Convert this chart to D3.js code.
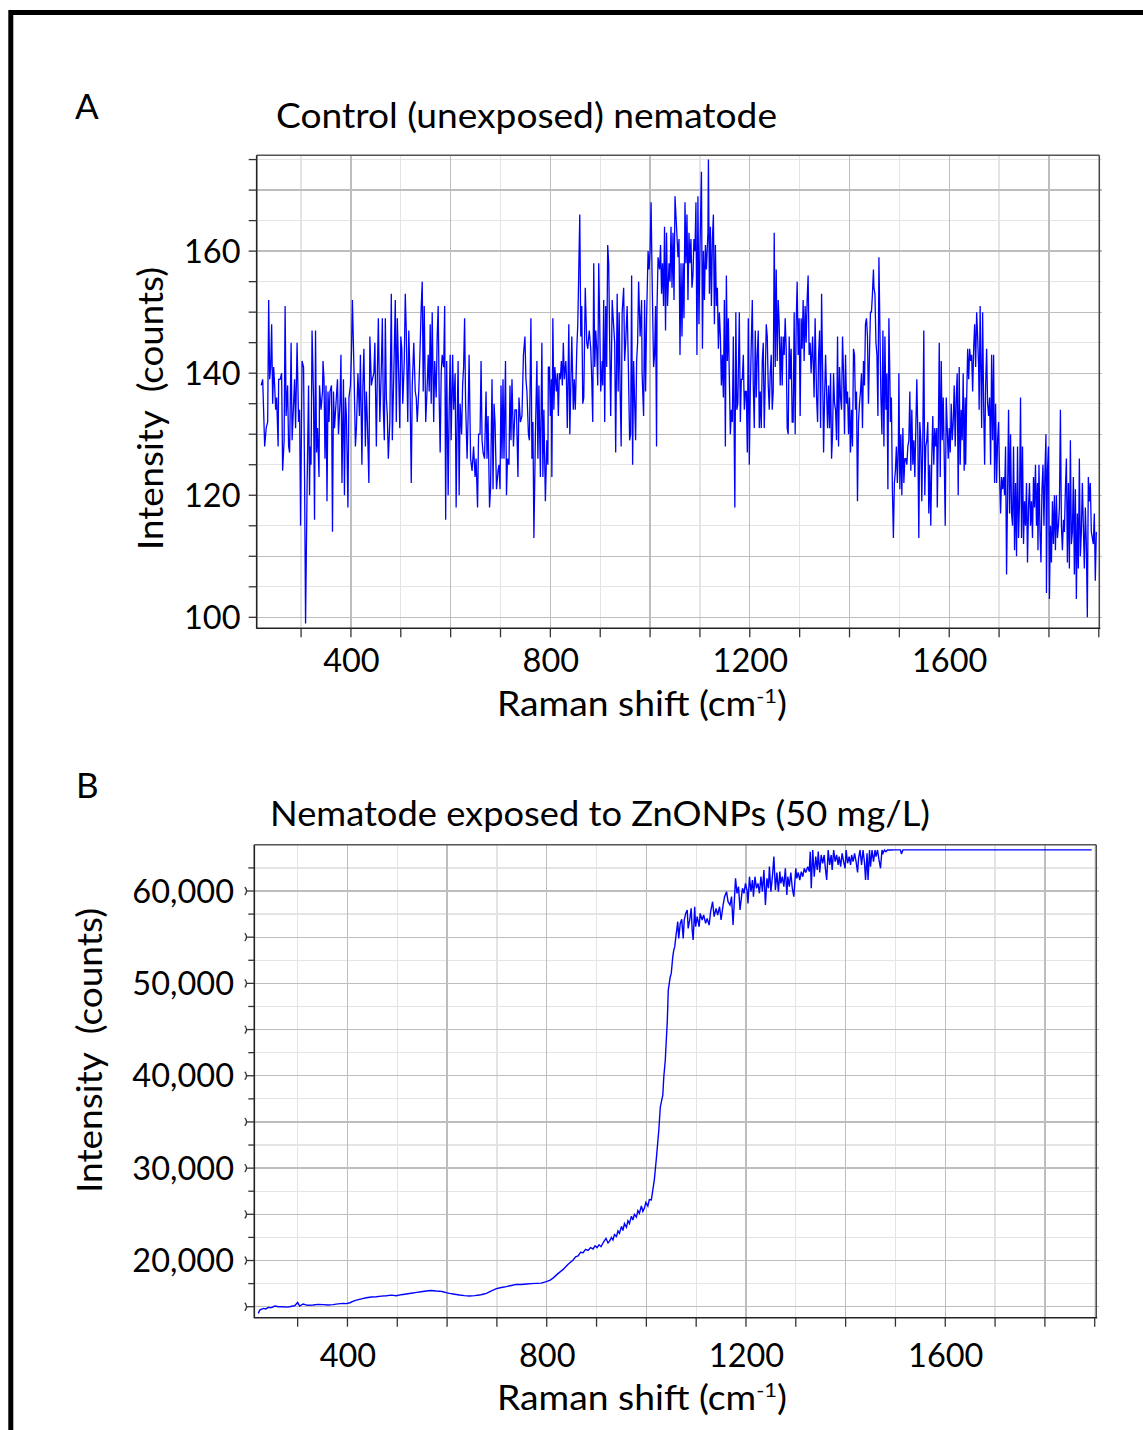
<!DOCTYPE html>
<html><head><meta charset="utf-8">
<script src="https://cdn.jsdelivr.net/npm/d3@7"></script>
<style>
body{margin:0;background:#fff}
svg{display:block}
text{font-family:Lato,"Open Sans",sans-serif;fill:#000}
</style>
</head><body>
<svg id="c" width="1143" height="1430"></svg>
<script>
// ---------- DATA ----------
// Panel A: control nematode spectrum [Raman shift cm-1, counts]
const spectrumA = [
[220,138],[223,139],[227,128],[230,131],[233,132],[235,152],[237,139],[239,141],[241,148],[243,135],[245,141],[247,138],[249,134],[251,136],[254,128],[255,139],[258,139],[261,140],[263,124],[266,129],[268,151],[270,133],[273,138],[275,128],[277,127],[280,145],[282,129],[285,135],[287,139],[289,131],[292,145],[295,132],[297,134],[299,115],[302,142],[305,141],[307,123],[309,99],[312,121],[315,138],[317,120],[318,128],[320,125],[322,147],[325,136],[327,116],[329,147],[331,127],[333,131],[336,123],[337,138],[340,134],[343,137],[344,142],[346,139],[348,126],[350,138],[352,119],[354,137],[356,132],[358,137],[361,138],[363,114],[365,137],[367,131],[370,135],[373,139],[375,130],[378,135],[380,143],[382,122],[385,139],[387,120],[389,136],[391,133],[394,118],[396,136],[399,138],[401,143],[403,152],[406,141],[409,128],[411,131],[414,140],[417,133],[419,143],[422,125],[424,138],[426,144],[429,128],[431,137],[433,132],[436,122],[438,146],[441,138],[443,139],[446,140],[448,145],[451,128],[453,140],[455,149],[458,132],[461,141],[463,149],[465,134],[467,129],[469,149],[471,136],[473,133],[475,126],[478,132],[481,153],[483,129],[486,140],[489,152],[491,132],[493,149],[496,139],[498,131],[500,146],[502,144],[504,135],[507,142],[509,153],[511,147],[514,132],[516,147],[518,141],[521,122],[523,138],[526,145],[529,137],[531,136],[533,132],[536,137],[538,142],[541,151],[543,155],[545,137],[547,151],[550,132],[553,138],[555,143],[557,137],[559,148],[561,135],[563,150],[566,132],[568,142],[571,136],[573,146],[575,151],[577,136],[579,127],[581,140],[583,143],[586,141],[588,151],[590,116],[592,142],[595,120],[597,134],[599,143],[601,129],[604,143],[606,134],[609,140],[611,118],[613,132],[615,142],[617,120],[619,135],[622,130],[624,138],[626,141],[628,149],[630,135],[633,126],[635,133],[637,143],[640,126],
[643,124],[646,128],[649,123],[651,126],[654,118],[656,130],[659,130],[661,142],[663,129],[665,127],[668,126],[671,137],[673,126],[675,133],[678,118],[680,121],[683,139],[685,121],[687,135],[689,132],[692,121],[695,124],[697,125],[699,121],[701,138],[703,126],[705,139],[707,126],[710,142],[712,120],[714,126],[717,125],[719,138],[721,129],[723,139],[726,128],[729,134],[732,134],[735,123],[737,136],[740,132],[743,133],[746,143],[749,146],[751,139],[753,137],[756,130],[758,129],[761,149],[763,126],[765,132],[767,113],[770,130],[773,142],[775,126],[777,138],[780,123],[783,145],[785,123],[787,134],[790,119],[793,129],[795,125],[796,141],[798,141],[800,133],[802,139],[803,123],[805,149],[807,134],[809,141],[812,137],[814,140],[816,133],[818,140],[820,139],[822,142],[824,138],[826,145],[828,139],[831,142],[832,140],[834,131],[837,148],[839,130],[841,138],[843,146],[846,134],[848,139],[850,134],[853,144],[855,148],[859,166],[861,146],[863,151],[865,135],[867,136],[870,154],[873,145],[875,144],[878,147],[881,144],[883,139],[885,132],[887,158],[889,141],[891,147],[893,144],[895,138],[897,158],[899,148],[901,137],[904,142],[905,138],[907,152],[909,132],[911,151],[913,141],[915,161],[917,158],[919,145],[921,133],[924,152],[926,149],[929,145],[931,127],[934,153],[936,137],[938,150],[940,137],[942,128],[944,150],[947,154],[949,142],[951,145],[954,151],[956,143],[959,129],[961,130],[963,156],[965,125],[967,142],[971,129],[973,142],[975,145],[977,155],[980,146],[983,152],[984,140],[987,133],[989,152],[991,137],[993,149],[996,160],[998,157],[1000,160],[1002,168],[1004,156],[1007,141],[1009,143],[1011,151],[1013,128],[1014,151],[1016,159],[1019,157],[1021,161],[1023,153],[1025,158],[1027,151],[1029,164],[1031,147],[1033,163],[1035,151],[1038,158],[1040,155],[1042,164],[1044,154],[1046,163],[1048,152],[1050,169],
[1056,159],[1058,162],[1060,143],[1062,158],[1064,146],[1066,158],[1068,149],[1070,168],[1072,158],[1074,166],[1076,152],[1078,163],[1080,158],[1082,162],[1084,154],[1086,156],[1088,162],[1090,160],[1092,168],[1094,143],[1096,169],[1098,148],[1100,160],[1103,173],[1105,144],[1107,160],[1109,152],[1111,161],[1113,157],[1114,159],[1116,163],[1117,175],[1119,153],[1121,164],[1123,151],[1125,162],[1127,166],[1129,148],[1131,161],[1133,151],[1135,154],[1137,144],[1139,150],[1141,146],[1143,138],[1145,143],[1147,136],[1149,152],[1151,128],[1153,156],[1155,142],[1157,149],[1159,139],[1161,130],[1163,134],[1165,132],[1167,146],[1170,118],[1172,150],[1174,134],[1176,135],[1179,150],[1181,132],[1183,139],[1185,139],[1187,143],[1189,134],[1191,137],[1193,137],[1195,127],[1197,149],[1199,125],[1201,137],[1203,145],[1205,152],[1207,138],[1209,131],[1211,147],[1213,136],[1215,143],[1217,147],[1219,131],[1221,137],[1223,131],[1225,142],[1227,145],[1229,131],[1231,139],[1233,148],[1235,146],[1237,138],[1239,134],[1241,140],[1243,143],[1245,134],[1247,137],[1249,163],[1251,141],[1253,157],[1255,142],[1257,152],[1259,148],[1261,138],[1263,146],[1265,138],[1267,146],[1269,143],[1271,149],[1273,144],[1275,131],[1277,130],[1279,146],[1281,139],[1283,144],[1285,132],[1287,132],[1289,150],[1291,130],[1293,148],[1295,155],[1297,143],[1299,149],[1301,133],[1303,149],[1305,144],[1307,152],[1309,142],[1311,151],[1313,145],[1315,152],[1317,156],[1319,143],[1321,145],[1323,140],[1326,146],[1329,136],[1331,149],[1334,136],[1336,132],[1338,143],[1340,147],[1342,131],[1344,153],[1346,141],[1348,127],[1350,136],[1352,143],[1354,137],[1356,131],[1358,138],[1360,131],[1362,140],[1364,126],[1366,130],[1368,140],[1370,135],[1372,134],[1374,129],[1376,146],[1378,128],[1380,141],[1382,136],[1384,134],[1386,146],[1388,140],[1390,130],[1392,143],[1394,135],[1396,137],[1398,130],[1400,136],[1402,127],[1404,134],[1406,128],[1408,144],[1410,143],[1412,134],[1414,137],[1416,119],[1418,132],[1420,135],[1422,137],[1424,140],[1426,131],[1428,142],[1430,138],[1432,148],[1434,149],[1436,146],[1438,135],[1440,143],[1442,150],[1444,150],[1446,153],[1448,157],[1449,154],[1451,153],[1453,145],[1455,143],[1457,133],[1459,159],[1461,147],[1463,136],[1465,130],[1467,147],[1469,128],[1471,146],[1473,134],[1475,140],[1477,121],[1479,149],[1481,139],
[1482,132],[1484,136],[1486,121],[1488,113],[1490,122],[1492,124],[1494,128],[1496,122],[1498,128],[1499,140],[1501,121],[1503,130],[1505,120],[1507,131],[1509,122],[1511,126],[1513,126],[1515,125],[1517,128],[1519,129],[1521,137],[1523,124],[1525,134],[1527,125],[1529,129],[1531,123],[1533,131],[1535,139],[1537,130],[1539,113],[1541,132],[1543,129],[1545,119],[1547,129],[1549,147],[1551,120],[1553,128],[1555,129],[1557,132],[1559,117],[1561,125],[1563,115],[1565,126],[1567,133],[1569,125],[1571,131],[1573,128],[1575,131],[1576,118],[1578,129],[1580,145],[1582,123],[1584,142],[1586,129],[1588,136],[1590,126],[1592,115],[1594,136],[1596,131],[1598,126],[1600,131],[1602,127],[1604,135],[1606,129],[1608,132],[1610,138],[1612,128],[1614,136],[1616,140],[1618,120],[1620,141],[1622,125],[1624,134],[1626,129],[1628,140],[1630,124],[1632,136],[1633,125],[1635,136],[1637,144],[1639,139],[1641,144],[1643,142],[1645,143],[1647,137],[1649,144],[1651,148],[1653,141],[1655,150],[1657,146],[1659,141],[1660,134],[1662,151],[1663,144],[1665,131],[1667,150],[1669,135],[1671,125],[1673,138],[1675,144],[1677,135],[1679,133],[1681,136],[1683,125],[1685,143],[1687,129],[1689,143],[1691,122],[1693,135],[1695,122],[1697,129],[1699,132],[1701,123],[1703,117],[1705,123],[1707,121],[1709,123],[1711,120],[1713,128],[1715,107],[1717,120],[1719,134],[1721,117],[1723,130],[1725,117],[1727,115],[1729,128],[1731,111],[1733,122],[1735,110],[1737,128],[1739,113],[1741,119],[1743,136],[1745,113],[1747,128],[1749,112],[1751,119],[1753,115],[1755,122],[1757,109],[1759,118],[1761,122],[1763,115],[1765,119],[1767,113],[1769,123],[1771,118],[1773,125],[1775,115],[1777,122],[1778,111],[1780,125],[1782,114],[1784,109],[1786,121],[1788,125],[1790,115],[1792,124],[1794,130],[1795,104],[1797,124],[1799,128],[1801,103],[1803,115],[1805,109],[1807,119],[1809,112],[1811,120],[1813,111],[1815,120],[1817,113],[1819,115],[1821,118],[1823,134],[1825,115],[1827,111],[1829,116],[1831,114],[1833,121],[1835,126],[1837,109],[1839,122],[1841,108],[1843,129],[1845,112],[1847,114],[1849,123],[1851,107],[1853,121],[1855,103],[1857,117],[1859,108],[1861,126],[1863,110],[1865,114],[1867,122],[1869,115],[1871,108],[1873,118],[1875,112],[1877,100],[1879,123],[1881,119],[1883,122],[1885,114],[1887,113],[1889,112],[1891,117],[1893,106],[1895,114]
];

// Panel B: nematode exposed to ZnONPs (50 mg/L) [Raman shift cm-1, counts]
const spectrumB = [
[221,14280],[224,14640],[231,14820],[236,14760],[241,14930],[248,14900],[254,15070],[262,15000],[271,15000],[278,14950],[284,15000],[290,15080],[294,15100],[300,15450],[304,15070],[311,15290],[320,15150],[331,15180],[341,15250],[351,15220],[361,15180],[371,15220],[381,15300],[391,15360],[398,15330],[405,15430],[412,15600],[418,15720],[428,15850],[438,15970],[448,16050],[458,16080],[468,16150],[478,16190],[488,16250],[498,16190],[508,16300],[518,16370],[528,16450],[539,16550],[548,16620],[558,16700],[568,16750],[578,16700],[585,16680],[592,16620],[598,16520],[605,16440],[615,16350],[625,16260],[635,16200],[645,16160],[655,16200],[665,16260],[672,16350],[679,16440],[689,16700],[699,16950],[709,17080],[719,17170],[729,17300],[739,17420],[749,17400],[759,17450],[769,17500],[779,17530],[789,17550],[799,17710],[806,17850],[812,18070],[822,18550],[833,19040],[843,19600],[853,20050],[858,20400],[863,20500],[868,20900],[873,20850],[878,21200],[883,21100],[888,21400],[893,21250],[897,21600],[901,21400],[905,21700],[909,21500],[914,22000],[919,22400],[923,21900],[926,22100],[930,22500],[933,22220],[936,22800],[940,22600],[943,23200],[946,22940],[950,23700],[953,23250],[956,24000],[960,23590],[963,24300],[966,24000],[970,24800],[973,24390],[976,25000],[980,24700],[983,25400],[986,25110],[990,25900],[993,25300],[996,25650],[999,26300],[1003,25900],[1006,26600],[1010,26550],[1013,27640],[1016,28720],[1020,31000],[1025,34100],
[1028,36620],[1033,37890],[1035,39880],[1038,41680],[1040,43850],[1042,45840],[1044,49270],[1048,50720],[1050,51080],[1053,52880],[1055,53600],[1057,53970],[1060,55410],[1061,55770],[1063,56680],[1065,54870],[1068,56500],[1071,56930],[1074,54870],[1076,56860],[1079,57580],[1082,57940],[1084,55950],[1087,56860],[1090,58120],[1092,55770],[1094,54690],[1097,58300],[1099,56130],[1102,57220],[1106,56130],[1108,57580],[1112,56860],[1115,57400],[1119,56500],[1122,57040],[1126,56310],[1129,57760],[1133,58840],[1136,57220],[1140,58120],[1143,57400],[1147,58300],[1150,56860],[1154,58480],[1157,59390],[1161,59930],[1164,58840],[1168,58480],[1171,59390],[1174,56310],[1176,58300],[1179,61370],[1182,59750],[1185,60470],[1188,57940],[1191,59390],[1193,60290],[1196,59750],[1199,60830],[1202,60110],[1204,58660],[1207,61550],[1210,59930],[1213,61190],[1215,59390],[1218,61550],[1221,60290],[1224,60830],[1227,59750],[1230,61550],[1233,59930],[1236,62280],[1239,58480],[1242,61370],[1245,60290],[1247,62640],[1250,59930],[1253,61550],[1256,63720],[1259,60110],[1262,62000],[1265,59930],[1268,62100],[1270,60830],[1273,61550],[1276,60470],[1279,62460],[1282,59570],[1284,61550],[1287,60470],[1290,62000],[1293,60290],[1296,59390],[1300,62460],[1302,61370],[1305,62000],[1308,61190],[1311,62100],[1314,61550],[1317,62460],[1320,62000],[1324,62640],[1327,62100],[1329,64260],[1331,60290],[1334,64440],[1337,61550],[1340,63720],[1343,62280],[1345,64260],[1348,62000],[1351,63900],[1354,63000],[1357,63900],[1359,62640],[1362,61190],[1365,64440],[1368,62820],[1371,63900],[1373,62280],[1376,64440],[1379,63180],[1382,63900],[1385,62820],[1387,63720],[1390,62640],[1393,64080],[1396,63180],[1399,62460],[1401,64440],[1404,63000],[1407,63720],[1410,62820],[1412,63900],[1415,63180],[1418,64080],[1421,63180],[1424,62000],[1426,63540],[1429,64440],[1432,62820],[1435,64440],[1438,63000],[1440,61190],[1443,64080],[1445,61190],[1448,64440],[1450,62640],[1453,64440],[1456,63180],[1459,64440],[1461,63720],[1464,64440],[1467,63360],[1470,62460],[1473,64440],[1475,64080],[1478,64440],[1481,64260],[1484,64440],[1491,64440],[1498,64450],[1510,64450],[1512,64010],[1515,64450],[1894,64450]
];

// Axis ticks / labels
const xLabelTicks = [400, 800, 1200, 1600];
const xMinorTicks = [300,400,500,600,700,800,900,1000,1100,1200,1300,1400,1500,1600,1700,1800,1900];
const xGridMajor = [400,600,800,1000,1200,1400,1600,1800];
const xGridMinor = [300,500,700,900,1100,1300,1500,1700,1900];
const yLabelsA = [100,120,140,160];
const yTicksA = [100,105,110,115,120,125,130,135,140,145,150,155,160,165,170,175];
const yGridMajorA = [100,110,120,130,140,150,160,170];
const yGridMinorA = [105,115,125,135,145,155,165,175];
const yLabelsB = [20000,30000,40000,50000,60000];
const yMajorTicksB = [15000,20000,25000,30000,35000,40000,45000,50000,55000,60000];
const yMinorTicksB = [17500,22500,27500,32500,37500,42500,47500,52500,57500,62500];

const titleA = "Control (unexposed) nematode";
const titleB = "Nematode exposed to ZnONPs (50 mg/L)";
const yTitle = "Intensity  (counts)";

// ---------- DRAWING ----------
const svg = d3.select("#c");
svg.append("rect").attr("width",1143).attr("height",1430).attr("fill","#fff");
// outer frame (left & top visible)
svg.append("path").attr("d","M10.8,1440 L10.8,12.5 L1150,12.5")
   .attr("fill","none").attr("stroke","#000").attr("stroke-width",5);

function fit(sel, w){
  const l = sel.node().getComputedTextLength();
  if (Math.abs(l-w)/w > 0.01) sel.attr("textLength", w).attr("lengthAdjust","spacingAndGlyphs");
  return sel;
}

function panel(cfg){
  const g = svg.append("g");
  const x = d3.scaleLinear().domain(cfg.xDomain).range([cfg.left, cfg.right]);
  const y = d3.scaleLinear().domain(cfg.yDomain).range([cfg.bottom, cfg.top]);
  const L = cfg.left, R = cfg.right, T = cfg.top, B = cfg.bottom;

  // grid
  const grid = g.append("g").attr("shape-rendering","crispEdges");
  cfg.yGridMinor.forEach(v => grid.append("line").attr("x1",L).attr("x2",R+3).attr("y1",y(v)).attr("y2",y(v)).attr("stroke","#e4e4e4").attr("stroke-width",1.3));
  xGridMinor.forEach(v => { if (x(v) < R-1) grid.append("line").attr("x1",x(v)).attr("x2",x(v)).attr("y1",T).attr("y2",B).attr("stroke","#e4e4e4").attr("stroke-width",1.3); });
  cfg.yGridMajor.forEach(v => grid.append("line").attr("x1",L).attr("x2",R+3).attr("y1",y(v)).attr("y2",y(v)).attr("stroke","#bdbdbd").attr("stroke-width",1.3));
  xGridMajor.forEach(v => grid.append("line").attr("x1",x(v)).attr("x2",x(v)).attr("y1",T).attr("y2",B).attr("stroke","#bdbdbd").attr("stroke-width",1.3));

  // frame
  g.append("line").attr("x1",L).attr("x2",R).attr("y1",T).attr("y2",T).attr("stroke","#555").attr("stroke-width",1.5);
  g.append("line").attr("x1",R).attr("x2",R).attr("y1",T).attr("y2",B).attr("stroke","#444").attr("stroke-width",1.5);

  // data line
  const clipId = "clip"+cfg.id;
  svg.append("clipPath").attr("id",clipId).append("rect").attr("x",L).attr("y",T).attr("width",R-L).attr("height",B-T);
  g.append("path").datum(cfg.data)
    .attr("clip-path",`url(#${clipId})`)
    .attr("fill","none").attr("stroke","#0000ff").attr("stroke-width",cfg.lw).attr("stroke-linejoin","miter").attr("stroke-miterlimit",3)
    .attr("d", d3.line().x(d=>x(d[0])).y(d=>y(d[1])));

  // axes lines
  g.append("line").attr("x1",L).attr("x2",L).attr("y1",T).attr("y2",B+0.5).attr("stroke","#222").attr("stroke-width",1.6);
  g.append("line").attr("x1",L).attr("x2",R+1).attr("y1",B).attr("y2",B).attr("stroke","#222").attr("stroke-width",1.6);

  // x ticks
  xMinorTicks.forEach(v => { const px = x(v); if (px <= R+1) g.append("line").attr("x1",px).attr("x2",px).attr("y1",B).attr("y2",B+9).attr("stroke","#333").attr("stroke-width",1.3); });
  xLabelTicks.forEach(v => g.append("text").attr("x",x(v)+0.5).attr("y",cfg.xLabelBase).attr("text-anchor","middle").attr("font-size",32.5).text(v));

  // y ticks
  cfg.yTicks.forEach(v => g.append("line").attr("x1",L-8).attr("x2",L).attr("y1",y(v)).attr("y2",y(v)).attr("stroke","#333").attr("stroke-width",1.3));
  if (cfg.yMinor) cfg.yMinor.forEach(v => g.append("line").attr("x1",L-6).attr("x2",L).attr("y1",y(v)).attr("y2",y(v)).attr("stroke","#333").attr("stroke-width",1.3));
  if (cfg.bracket) cfg.yTicks.forEach(v => g.append("path").attr("d",`M${L-9.5},${y(v)-4} Q${L-6},${y(v)} ${L-9.5},${y(v)+4}`).attr("fill","none").attr("stroke","#333").attr("stroke-width",1.3));
  cfg.yLabels.forEach(v => g.append("text").attr("x",cfg.yLabelRight).attr("y",y(v)+11.6).attr("text-anchor","end").attr("font-size",32.5).text(cfg.fmt(v)));

  // titles
  g.append("text").attr("x",cfg.letterX).attr("y",cfg.letterY).attr("font-size",35).text(cfg.letter);
  fit(g.append("text").attr("x",cfg.titleX).attr("y",cfg.titleY).attr("font-size",35).text(cfg.title), cfg.titleW);
  fit(g.append("text").attr("transform",`translate(${cfg.yTitleX},${cfg.yTitleY}) rotate(-90)`).attr("text-anchor","middle").attr("font-size",35).attr("xml:space","preserve").text(yTitle), cfg.yTitleW);
  const xt = g.append("text").attr("x",497).attr("y",cfg.xTitleY).attr("font-size",34);
  xt.append("tspan").text("Raman shift (cm");
  xt.append("tspan").attr("font-size",20).attr("dy",-13).text("-1");
  xt.append("tspan").attr("dy",13).text(")");
  fit(xt, 290);
}

panel({id:"A", data:spectrumA, left:256.7, right:1099.3, top:155.3, bottom:628.3,
  xDomain:[211,1901], yDomain:[98.2,175.7], lw:1.3,
  yGridMajor:yGridMajorA, yGridMinor:yGridMinorA, yTicks:yTicksA, yLabels:yLabelsA,
  yLabelRight:240.5, fmt:d=>d, xLabelBase:672,
  letter:"A", letterX:75, letterY:119, title:titleA, titleX:276, titleY:128, titleW:501,
  yTitleX:163, yTitleY:408.5, yTitleW:283, xTitleY:716});

panel({id:"B", data:spectrumB, left:254.3, right:1096.2, top:844.7, bottom:1317.7,
  xDomain:[213,1903], yDomain:[13809,65012], lw:1.4,
  yGridMajor:yMajorTicksB, yGridMinor:yMinorTicksB, yTicks:yMajorTicksB, yMinor:yMinorTicksB, bracket:true,
  yLabels:yLabelsB, yLabelRight:234, fmt:d3.format(","), xLabelBase:1367,
  letter:"B", letterX:76, letterY:798, title:titleB, titleX:270, titleY:826, titleW:660,
  yTitleX:101.7, yTitleY:1050.5, yTitleW:285, xTitleY:1410});
</script>
</body></html>
